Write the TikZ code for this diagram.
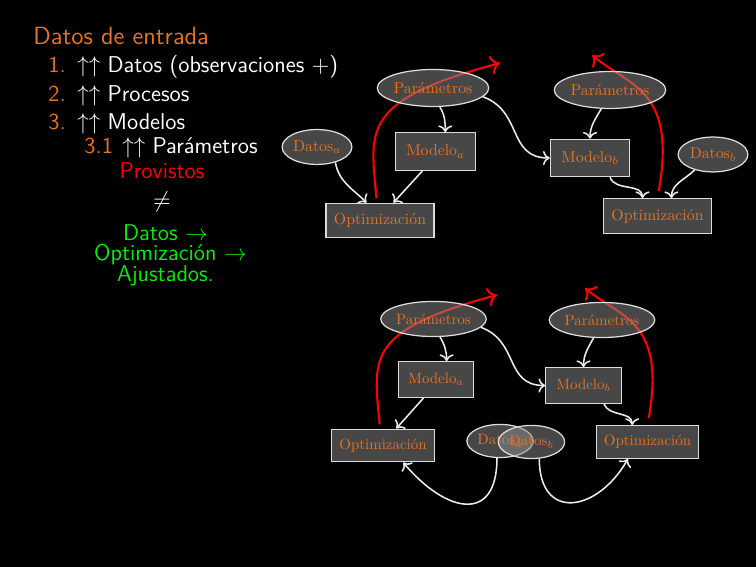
\documentclass[tikz,border=0pt]{standalone}
\usepackage{amsmath,amssymb,graphicx}
\usepackage{tikz}
\usetikzlibrary{shapes.geometric,backgrounds,arrows.meta}
\definecolor{naranjo}{RGB}{230,115,35}
\definecolor{verde}{RGB}{10,235,10}
\definecolor{relleno}{RGB}{142,142,142}
\definecolor{borde}{RGB}{220,220,220}
\definecolor{linea}{RGB}{235,235,235}
\newcommand{\etiq}[2][0.76]{\scalebox{#1}{#2}}

\begin{document}
\begin{tikzpicture}[x=0.16931mm,y=0.16931mm,
    txt/.style={inner sep=0pt, anchor=base west, text=white, font=\sffamily\fontsize{11}{13.6}\selectfont},
    num/.style={txt, text=naranjo},
    centro/.style={txt, anchor=base},
    nodo/.style={draw=borde, line width=0.6pt, fill=relleno, fill opacity=0.5, text opacity=1, text=naranjo, inner sep=0pt, font=\fontsize{10}{12}\selectfont},
    param/.style={nodo, ellipse, minimum width=#1*50.9pt, minimum height=#1*17.8pt}, param/.default=1,
    dat/.style={nodo, ellipse, minimum width=#1*33.6pt, minimum height=#1*16.8pt}, dat/.default=1,
    model/.style={nodo, rectangle, minimum width=#1*38.2pt, minimum height=#1*18pt}, model/.default=1,
    opt/.style={nodo, rectangle, minimum width=#1*52pt, minimum height=#1*16.6pt}, opt/.default=1,
    flecha/.style={->, draw=linea, line width=0.75pt},
    roja/.style={-{To[length=4.5pt,width=9pt]}, draw=red, line width=1pt, shorten <=2pt}]
    \useasboundingbox (0,0) rectangle (756,567);
    % texto de la izquierda
    \node[txt, text=naranjo, font=\sffamily\fontsize{12}{14.5}\selectfont] (titulo) at (33,522) {Datos de entrada};
    \node[num] (n1) at (48,494) {1.}; \node[txt] (t1) at (77,494) {$\uparrow\uparrow$ Datos (observaciones $+$)};
    \node[num] (n2) at (48,465) {2.}; \node[txt] (t2) at (77,465) {$\uparrow\uparrow$ Procesos};
    \node[num] (n3) at (48,437) {3.}; \node[txt] (t3) at (77,437) {$\uparrow\uparrow$ Modelos};
    \node[num] (n31) at (84,413) {3.1}; \node[txt] (t31) at (122,413) {$\uparrow\uparrow$ Parámetros};
    \node[centro, text=red] (provistos) at (162,388) {Provistos};
    \node[centro] (distinto) at (162,359) {$\neq$};
    \node[centro, text=verde] (g1) at (165.5,326) {Datos $\rightarrow$};
    \node[centro, text=verde] (g2) at (170.5,306) {Optimización $\rightarrow$};
    \node[centro, text=verde] (g3) at (165.5,285) {Ajustados.};

    % primer esquema
    \node[param] (p1) at (433,479) {\etiq{Parámetros}};
    \node[dat] (da) at (317,420) {\etiq{Datos$_a$}};
    \node[model] (ma) at (435.5,415.5) {\etiq{Modelo$_a$}};
    \node[opt] (o1) at (380,346.5) {\etiq{Optimización}};
    \node[param] (p2) at (610,477) {\etiq{Parámetros}};
    \node[model] (mb) at (590,409) {\etiq{Modelo$_b$}};
    \node[dat] (db) at (713,412.5) {\etiq{Datos$_b$}};
    \node[opt] (o2) at (657.5,351) {\etiq{Optimización}};
    \coordinate (r1) at (500,504);
    \coordinate (r2) at (592,512);

    \draw[flecha] (p1.-70) to[out=-60,in=90] (ma.63);
    \draw[flecha] (da.-40) to[out=-80,in=135] (o1.127);
    \draw[flecha] (ma.-124) -- (o1.53);
    \draw[flecha] (p1.-10) to[out=-20,in=180,looseness=1.2] (mb.west);
    \draw[flecha] (p2.-115) to[out=-120,in=90] (mb.north);
    \draw[flecha] (mb.-44) to[out=-70,in=90] (o2.130);
    \draw[flecha] (db.-140) to[out=-135,in=90] (o2.52);

    % segundo esquema
    \node[param=0.95] (p3) at (433.5,248) {\etiq[0.72]{Parámetros}};
    \node[model=0.95] (ma2) at (436,187.5) {\etiq[0.72]{Modelo$_a$}};
    \node[opt=0.95] (o3) at (383,121.5) {\etiq[0.72]{Optimización}};
    \node[dat=0.95] (da3) at (500,126) {\etiq[0.72]{Datos$_a$}};
    \node[dat=0.95] (db3) at (531.5,125) {\etiq[0.72]{Datos$_b$}};
    \node[param=0.95] (p4) at (602,247) {\etiq[0.72]{Parámetros}};
    \node[model=0.95] (mb4) at (583.5,181.5) {\etiq[0.72]{Modelo$_b$}};
    \node[opt=0.95] (o4) at (647.5,125) {\etiq[0.72]{Optimización}};
    \coordinate (r3) at (497,272);
    \coordinate (r4) at (585,279);

    \draw[flecha] (p3.-70) to[out=-60,in=90] (ma2.60);
    \draw[flecha] (ma2.-124) -- (o3.52);
    \draw[flecha] (p3.-10) to[out=-20,in=180,looseness=1.2] (mb4.west);
    \draw[flecha] (p4.-115) to[out=-120,in=90] (mb4.north);
    \draw[flecha] (mb4.-42) to[out=-70,in=90] (o4.132);
    \draw[flecha] (da3.-100) to[out=-90,in=-50,looseness=1.8] (o3.-40);
    \draw[flecha] (db3.-65) to[out=-90,in=-120,looseness=1.8] (o4.-139);

    % fondo y flechas rojas debajo de los nodos
    \begin{scope}[on background layer]
        \fill[black] (0,0) rectangle (756,567);
        \draw[roja] (o1.100) to[out=95,in=195,in looseness=2] (r1);
        \draw[roja, shorten <=3.5pt] (o2.north) to[out=80,in=-40,out looseness=1.8,in looseness=0.8] (r2);
        \draw[roja] (o3.100) to[out=95,in=195,in looseness=2] (r3);
        \draw[roja, shorten <=3.5pt] (o4.north) to[out=80,in=-40,out looseness=1.8,in looseness=0.8] (r4);
    \end{scope}
\end{tikzpicture}
\end{document}
